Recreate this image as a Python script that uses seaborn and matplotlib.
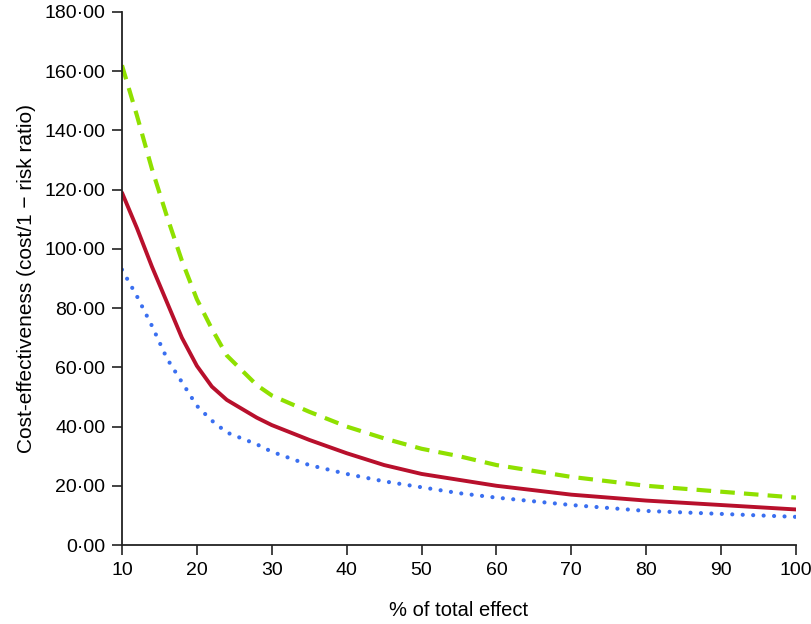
import pandas as pd
import seaborn as sns
import matplotlib.pyplot as plt
from matplotlib.ticker import FuncFormatter

# % of total effect
effect = [10, 12, 14, 16, 18, 20, 22, 24, 26, 28, 30, 35, 40, 45, 50, 55, 60, 70, 80, 90, 100]

# cost-effectiveness for the three scenarios
high = [162, 145, 127, 111, 96, 83, 73, 64, 59, 54, 50.5, 45, 40, 36, 32.5, 30, 27, 23, 20, 18, 16]
mid = [119, 107, 94, 82, 70, 60.5, 53.5, 49, 46, 43, 40.5, 35.5, 31, 27, 24, 22, 20, 17, 15, 13.5, 12]
low = [93, 84, 74, 63, 55, 47, 42, 38, 36, 34, 31.5, 27, 24, 21.5, 19.5, 17.5, 16, 13.5, 11.5, 10.5, 9.5]

df = pd.DataFrame({'effect': effect, 'high': high, 'mid': mid, 'low': low})

sns.set_style('ticks')
plt.rcParams['font.family'] = ['Liberation Sans', 'DejaVu Sans']
plt.rcParams['text.color'] = 'black'
plt.rcParams['axes.labelcolor'] = 'black'

fig = plt.figure(figsize=(8.11, 6.24), dpi=100)
ax = fig.add_axes([0.1504, 0.1266, 0.8311, 0.8542])

sns.lineplot(data=df, x='effect', y='high', ax=ax, color='#8fe000', linewidth=3.0,
             linestyle=(0, (3.5, 2.2)))
sns.lineplot(data=df, x='effect', y='mid', ax=ax, color='#b8102c', linewidth=2.8)
sns.lineplot(data=df, x='effect', y='low', ax=ax, color='#3a6ff0', linewidth=3.0,
             linestyle=(0, (0.01, 2.5)))
ax.lines[-1].set_dash_capstyle('round')

ax.set_xlim(10, 100)
ax.set_ylim(0, 180)
ax.set_xticks(range(10, 101, 10))
ax.set_yticks(range(0, 181, 20))
ax.yaxis.set_major_formatter(FuncFormatter(lambda v, p: f"{v:.2f}".replace('.', '·')))

ax.set_xlabel('% of total effect', fontsize=14.5, labelpad=16)
ax.set_ylabel('Cost-effectiveness (cost/1 − risk ratio)', fontsize=15, labelpad=6)
ax.tick_params(labelsize=14, labelcolor='black', length=7, width=1.2, color='#222222', pad=5)
for s in ['left', 'bottom']:
    ax.spines[s].set_linewidth(1.3)
    ax.spines[s].set_color('#222222')
sns.despine(ax=ax)

fig.savefig('out.png', dpi=100)
